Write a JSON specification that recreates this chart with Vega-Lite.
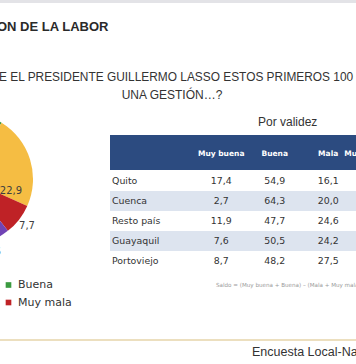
{
  "$schema": "https://vega.github.io/schema/vega-lite/v6.json",
  "width": 356,
  "height": 364,
  "autosize": {"type": "none"},
  "padding": 0,
  "background": "white",
  "config": {
    "view": {"stroke": null},
    "locale": {"number": {"decimal": ",", "thousands": ".", "grouping": [3], "currency": ["", " €"]}}
  },
  "datasets": {
    "pie": [
      {"cat": "Muy buena", "pct": 10.6, "orden": 1},
      {"cat": "Buena", "pct": 47.2, "orden": 2},
      {"cat": "Mala", "pct": 22.9, "orden": 3},
      {"cat": "Muy mala", "pct": 7.7, "orden": 4},
      {"cat": "Ns/Nc", "pct": 11.6, "orden": 5}
    ],
    "tabla": [
      {"ciudad": "Quito", "col": "Muy buena", "valor": 17.4},
      {"ciudad": "Quito", "col": "Buena", "valor": 54.9},
      {"ciudad": "Quito", "col": "Mala", "valor": 16.1},
      {"ciudad": "Cuenca", "col": "Muy buena", "valor": 2.7},
      {"ciudad": "Cuenca", "col": "Buena", "valor": 64.3},
      {"ciudad": "Cuenca", "col": "Mala", "valor": 20.0},
      {"ciudad": "Resto país", "col": "Muy buena", "valor": 11.9},
      {"ciudad": "Resto país", "col": "Buena", "valor": 47.7},
      {"ciudad": "Resto país", "col": "Mala", "valor": 24.6},
      {"ciudad": "Guayaquil", "col": "Muy buena", "valor": 7.6},
      {"ciudad": "Guayaquil", "col": "Buena", "valor": 50.5},
      {"ciudad": "Guayaquil", "col": "Mala", "valor": 24.2},
      {"ciudad": "Portoviejo", "col": "Muy buena", "valor": 8.7},
      {"ciudad": "Portoviejo", "col": "Buena", "valor": 48.2},
      {"ciudad": "Portoviejo", "col": "Mala", "valor": 27.5}
    ],
    "columnas": [
      {"col": "Muy buena"}, {"col": "Buena"}, {"col": "Mala"}, {"col": "Muy mala"}
    ],
    "uno": [{}]
  },
  "layer": [
    {
      "data": {"name": "uno"},
      "mark": {"type": "rect", "fill": "#e3e3e7"},
      "encoding": {"x": {"value": 0}, "x2": {"value": 356}, "y": {"value": 0}, "y2": {"value": 3}}
    },
    {
      "data": {"name": "uno"},
      "mark": {"type": "text", "text": "ON DE LA LABOR", "font": "Liberation Sans", "fontWeight": "bold", "fontSize": 13, "align": "left", "baseline": "middle", "color": "#2a2a2a"},
      "encoding": {"x": {"value": -3}, "y": {"value": 27}}
    },
    {
      "data": {"name": "uno"},
      "mark": {"type": "text", "text": "E EL PRESIDENTE GUILLERMO LASSO ESTOS PRIMEROS 100", "font": "Liberation Sans", "fontSize": 11.9, "align": "left", "baseline": "middle", "color": "#333333"},
      "encoding": {"x": {"value": -1}, "y": {"value": 77}}
    },
    {
      "data": {"name": "uno"},
      "mark": {"type": "text", "text": "UNA GESTIÓN…?", "font": "Liberation Sans", "fontSize": 12, "align": "center", "baseline": "middle", "color": "#333333"},
      "encoding": {"x": {"value": 172}, "y": {"value": 95}}
    },
    {
      "data": {"name": "uno"},
      "mark": {"type": "text", "text": "Por validez", "font": "Liberation Sans", "fontSize": 12, "align": "left", "baseline": "middle", "color": "#333333"},
      "encoding": {"x": {"value": 258}, "y": {"value": 122}}
    },
    {
      "data": {"name": "pie"},
      "layer": [
        {
          "mark": {"type": "arc", "outerRadius": 66},
          "encoding": {
            "x": {"value": -33},
            "y": {"value": 179},
            "theta": {"field": "pct", "type": "quantitative", "stack": true, "scale": {"range": [3.203, 9.4862]}},
            "order": {"field": "orden", "type": "quantitative"},
            "color": {
              "field": "cat", "type": "nominal",
              "scale": {"domain": ["Muy buena", "Buena", "Mala", "Muy mala", "Ns/Nc"], "range": ["#2f5da8", "#3b9a40", "#f5bd43", "#bf2226", "#7043b5"]},
              "legend": {
                "orient": "none", "legendX": 3, "legendY": 279.5, "direction": "vertical",
                "values": ["Buena", "Muy mala"], "title": null, "padding": 0,
                "symbolType": "square", "symbolSize": 32, "symbolStrokeWidth": 0,
                "labelFont": "DejaVu Sans", "labelFontSize": 11, "labelColor": "#333333",
                "labelOffset": 4, "rowPadding": 5.5
              }
            }
          }
        },
        {
          "mark": {"type": "text", "font": "DejaVu Sans", "fontSize": 10, "color": "#404040", "align": "center", "baseline": "middle", "dy": 26},
          "encoding": {
            "x": {"value": -33},
            "y": {"value": 179},
            "theta": {"field": "pct", "type": "quantitative", "stack": true},
            "radius": {"value": 46},
            "order": {"field": "orden", "type": "quantitative"},
            "text": {"condition": {"test": "datum.cat === 'Mala'", "field": "pct", "type": "quantitative", "format": ".1f"}, "value": ""}
          }
        },
        {
          "mark": {"type": "text", "font": "DejaVu Sans", "fontSize": 10, "color": "#404040", "align": "center", "baseline": "middle"},
          "encoding": {
            "x": {"value": -33},
            "y": {"value": 179},
            "theta": {"field": "pct", "type": "quantitative", "stack": true},
            "radius": {"value": 76},
            "order": {"field": "orden", "type": "quantitative"},
            "text": {"condition": {"test": "datum.cat !== 'Mala'", "field": "pct", "type": "quantitative", "format": ".1f"}, "value": ""}
          }
        }
      ]
    },
    {
      "data": {"name": "uno"},
      "mark": {"type": "rect", "fill": "#2c4b80"},
      "encoding": {"x": {"value": 110}, "x2": {"value": 356}, "y": {"value": 135}, "y2": {"value": 170}}
    },
    {
      "data": {"name": "tabla"},
      "transform": [{"aggregate": [{"op": "count", "as": "n"}], "groupby": ["ciudad"]}],
      "mark": {"type": "rect"},
      "encoding": {
        "x": {"value": 110}, "x2": {"value": 356},
        "y": {"field": "ciudad", "type": "nominal", "scale": {"type": "band", "domain": ["Quito", "Cuenca", "Resto país", "Guayaquil", "Portoviejo"], "range": [171, 271], "paddingInner": 0, "paddingOuter": 0}, "axis": null},
        "fill": {"condition": {"test": "datum.ciudad === 'Cuenca' || datum.ciudad === 'Guayaquil'", "value": "#dde4ef"}, "value": "transparent"}
      }
    },
    {
      "data": {"name": "tabla"},
      "transform": [{"aggregate": [{"op": "count", "as": "n"}], "groupby": ["ciudad"]}],
      "mark": {"type": "text", "font": "DejaVu Sans", "fontSize": 9.4, "color": "#333333", "align": "left", "baseline": "middle"},
      "encoding": {
        "x": {"value": 112},
        "y": {"field": "ciudad", "type": "nominal", "axis": null},
        "text": {"field": "ciudad", "type": "nominal"}
      }
    },
    {
      "data": {"name": "tabla"},
      "mark": {"type": "text", "font": "DejaVu Sans", "fontSize": 9.4, "color": "#333333", "align": "center", "baseline": "middle"},
      "encoding": {
        "x": {"field": "col", "type": "nominal", "scale": {"type": "point", "domain": ["Muy buena", "Buena", "Mala", "Muy mala"], "range": [221.2, 381.7], "padding": 0}, "axis": null},
        "y": {"field": "ciudad", "type": "nominal", "axis": null},
        "text": {"field": "valor", "type": "quantitative", "format": ".1f"}
      }
    },
    {
      "data": {"name": "columnas"},
      "mark": {"type": "text", "font": "DejaVu Sans", "fontWeight": "bold", "fontSize": 7.5, "color": "white", "align": "center", "baseline": "middle",
               "dx": {"expr": "datum.col === 'Muy mala' ? -17 : 0"}},
      "encoding": {
        "x": {"field": "col", "type": "nominal", "axis": null},
        "y": {"value": 153.5},
        "text": {"field": "col", "type": "nominal"}
      }
    },
    {
      "data": {"name": "uno"},
      "mark": {"type": "text", "text": "Saldo = (Muy buena + Buena) – (Mala + Muy mala)", "font": "DejaVu Sans", "fontSize": 5.6, "align": "left", "baseline": "middle", "color": "#9a9a9a"},
      "encoding": {"x": {"value": 216}, "y": {"value": 285}}
    },
    {
      "data": {"name": "uno"},
      "mark": {"type": "rule", "stroke": "#e6d4aa", "strokeWidth": 1.5},
      "encoding": {"x": {"value": 0}, "x2": {"value": 356}, "y": {"value": 340}}
    },
    {
      "data": {"name": "uno"},
      "mark": {"type": "text", "text": "Encuesta Local-Nacional", "font": "Liberation Sans", "fontSize": 12.5, "align": "left", "baseline": "middle", "color": "#333333"},
      "encoding": {"x": {"value": 252}, "y": {"value": 352}}
    }
  ]
}
